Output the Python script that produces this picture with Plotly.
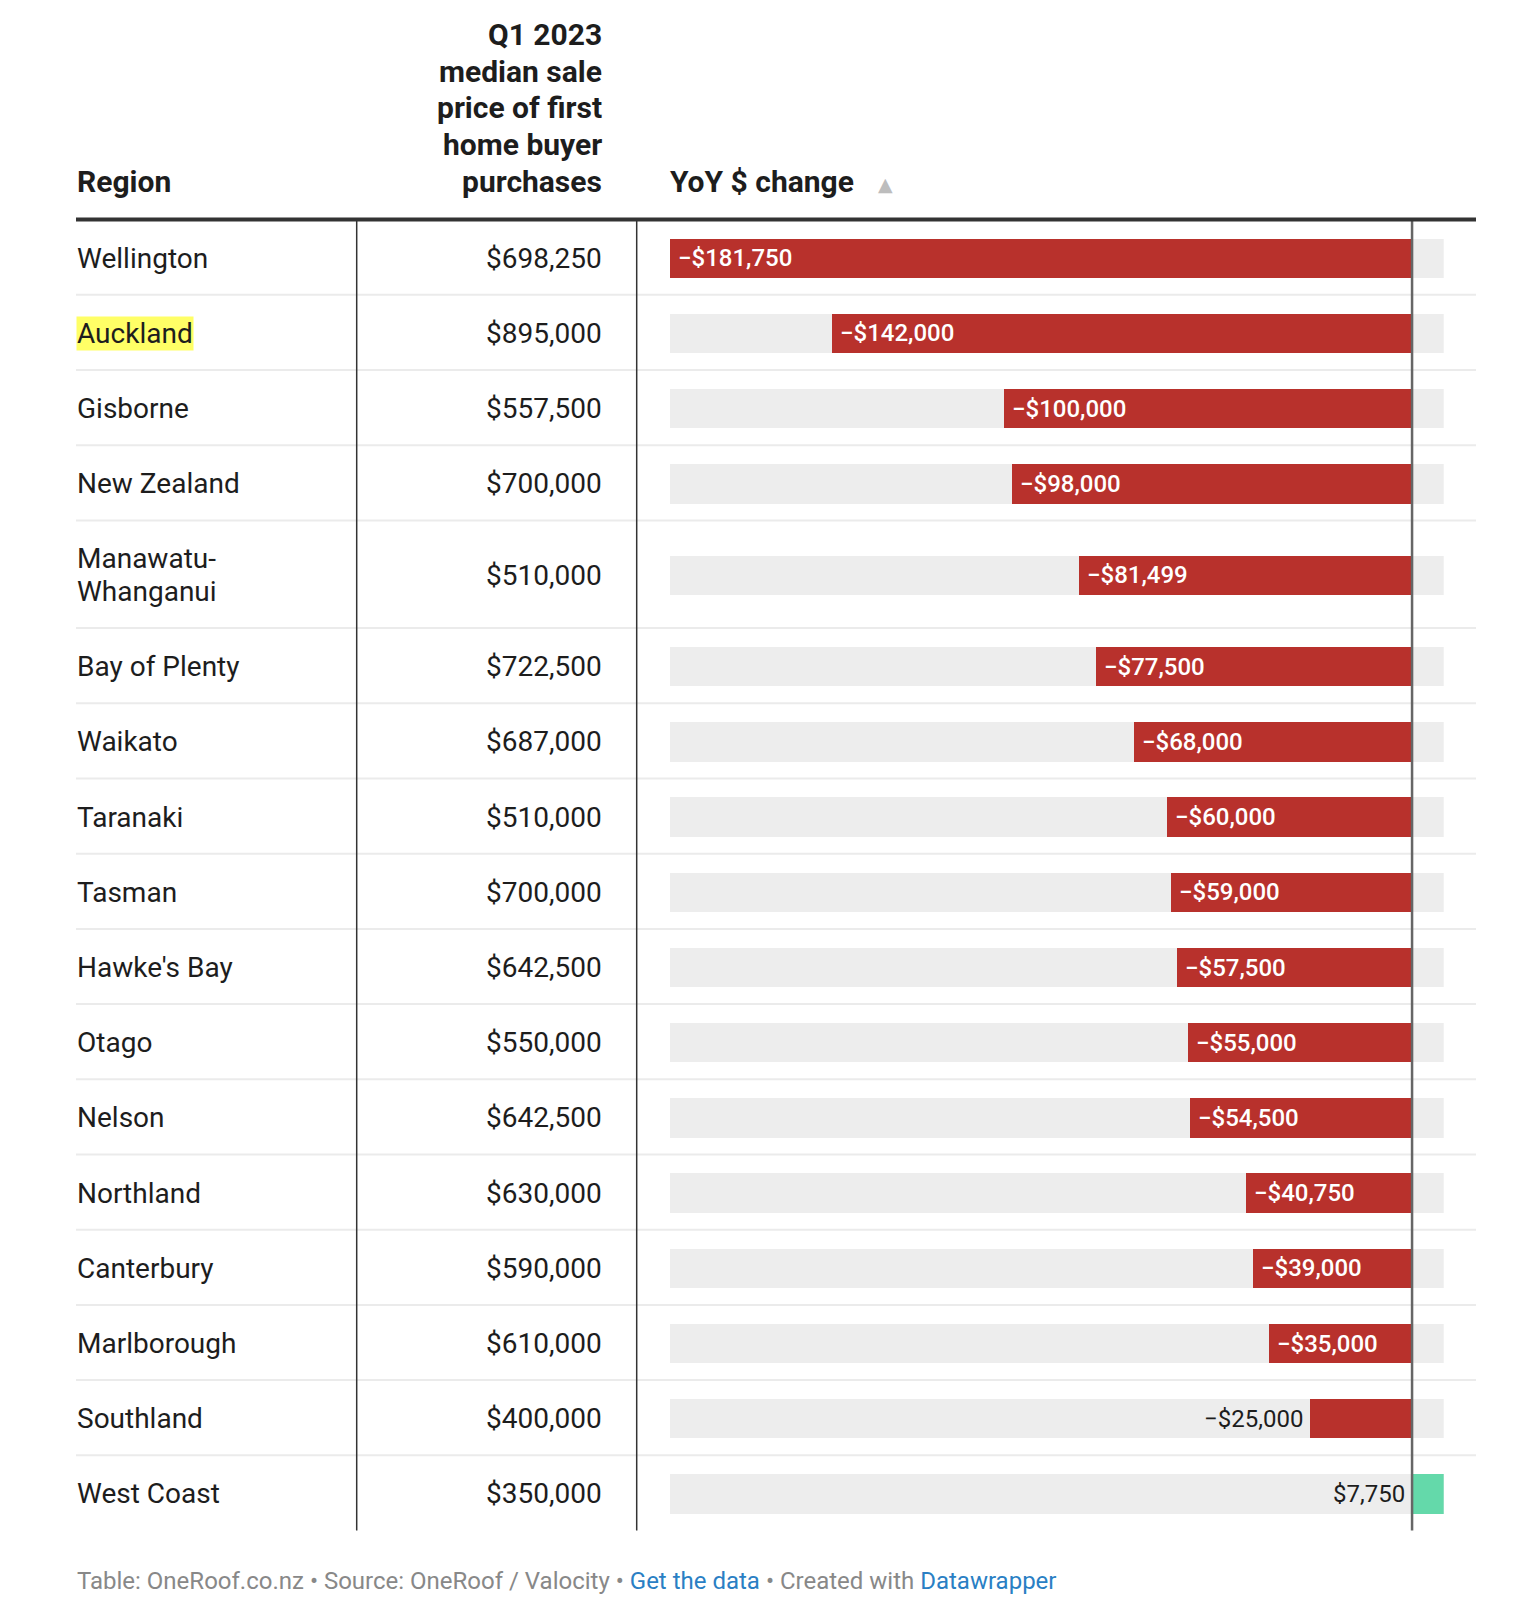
import plotly.graph_objects as go

regions = ["Wellington", "Auckland", "Gisborne", "New Zealand", "Manawatu-\nWhanganui",
           "Bay of Plenty", "Waikato", "Taranaki", "Tasman", "Hawke's Bay", "Otago",
           "Nelson", "Northland", "Canterbury", "Marlborough", "Southland", "West Coast"]
median_price = [698250, 895000, 557500, 700000, 510000, 722500, 687000, 510000, 700000,
                642500, 550000, 642500, 630000, 590000, 610000, 400000, 350000]
yoy_change = [-181750, -142000, -100000, -98000, -81499, -77500, -68000, -60000, -59000,
              -57500, -55000, -54500, -40750, -39000, -35000, -25000, 7750]
highlight = ["Auckland"]

price_header = ["Q1 2023", "median sale", "price of first", "home buyer", "purchases"]
footer_links = "#2a7fc4"

W, H = 1520, 1606
RED = "#b8312c"
GREEN = "#64d9aa"
BG = "#ededed"
FONT = "Roboto"

x_min = min(yoy_change)
x_max = max(yoy_change)


def money(v):
    s = "${:,}".format(abs(v))
    return "\u2212" + s if v < 0 else s


# row layout (pixels, y axis runs top->bottom)
rule_y = 219.6
row_tops, row_centers, row_heights = [], [], []
top = rule_y
for r in regions:
    n = r.count("\n") + 1
    h = 75.2 + 32.5 * (n - 1)
    row_tops.append(top)
    row_heights.append(h)
    row_centers.append(top + h / 2 + 1)
    top += h
table_bottom = top

fig = go.Figure()

# grey background bars across the full range
fig.add_trace(go.Bar(
    y=row_centers, x=[x_max - x_min] * len(regions), base=[x_min] * len(regions),
    orientation="h", width=39.4, marker=dict(color=BG, line=dict(width=0)),
    hoverinfo="skip", showlegend=False))

# value bars
fig.add_trace(go.Bar(
    y=row_centers, x=yoy_change, orientation="h", width=39.4,
    marker=dict(color=[RED if v < 0 else GREEN for v in yoy_change], line=dict(width=0)),
    hoverinfo="skip", showlegend=False))

ann = []
shapes = []

# header
ann.append(dict(text="Region", x=76 / W, y=181.5, xref="paper", yref="y",
                xanchor="left", yanchor="middle", showarrow=False, borderpad=0,
                font=dict(family=FONT, size=30, color="#1d1d1d", weight=700)))
for i, line in enumerate(price_header):
    base = 192 - 36.8 * (len(price_header) - 1 - i)
    ann.append(dict(text=line, x=603 / W, y=base - 10.6, xref="paper", yref="y",
                    xanchor="right", yanchor="middle", showarrow=False, borderpad=0,
                    font=dict(family=FONT, size=30, color="#1d1d1d", weight=700)))
ann.append(dict(text="YoY $ change", x=669 / W, y=181.5, xref="paper", yref="y",
                xanchor="left", yanchor="middle", showarrow=False, borderpad=0,
                font=dict(family=FONT, size=30, color="#1d1d1d", weight=700)))
ann.append(dict(text="\u25b2", x=885 / W, y=184, xref="paper", yref="y",
                xanchor="center", yanchor="middle", showarrow=False, borderpad=0,
                font=dict(family="DejaVu Sans", size=19, color="#bdbdbd")))

# rows
for i, r in enumerate(regions):
    lines = r.split("\n")
    for j, line in enumerate(lines):
        yy = row_centers[i] + (j - (len(lines) - 1) / 2) * 32.6
        ann.append(dict(text=line, x=76 / W, y=yy, xref="paper", yref="y",
                        xanchor="left", yanchor="middle", showarrow=False, borderpad=0,
                        bgcolor="#ffff66" if r in highlight else "rgba(0,0,0,0)",
                        font=dict(family=FONT, size=28, color="#1d1d1d")))
    ann.append(dict(text=money(median_price[i]), x=603 / W, y=row_centers[i],
                    xref="paper", yref="y", xanchor="right", yanchor="middle",
                    showarrow=False, borderpad=0,
                    font=dict(family=FONT, size=28, color="#1d1d1d")))

    v = yoy_change[i]
    label = money(v)
    bar_px = abs(v) / (x_max - x_min) * (1443.7 - 670)
    label_px = 24 * 0.56 * len(label)
    if v < 0 and bar_px > label_px + 16:
        ann.append(dict(text=label, x=v, y=row_centers[i], xref="x", yref="y",
                        xanchor="left", yanchor="middle", xshift=7, showarrow=False,
                        borderpad=0,
                        font=dict(family=FONT, size=24, color="white", weight=500)))
    else:
        ann.append(dict(text=label, x=min(v, 0), y=row_centers[i], xref="x", yref="y",
                        xanchor="right", yanchor="middle", xshift=-6, showarrow=False,
                        borderpad=0, font=dict(family=FONT, size=24, color="#1d1d1d")))

    # row separator
    if i > 0:
        shapes.append(dict(type="line", xref="paper", yref="y", x0=76 / W, x1=1476 / W,
                           y0=row_tops[i], y1=row_tops[i],
                           line=dict(color="#ebebeb", width=2), layer="below"))

# column lines
for cx in [356.7, 636.7]:
    shapes.append(dict(type="line", xref="paper", yref="y", x0=cx / W, x1=cx / W,
                       y0=rule_y, y1=table_bottom, line=dict(color="#333333", width=1.5)))
# zero line
shapes.append(dict(type="line", xref="x", yref="y", x0=0, x1=0,
                   y0=rule_y, y1=table_bottom, line=dict(color="#666666", width=2.5)))
# header rule
shapes.append(dict(type="line", xref="paper", yref="y", x0=76 / W, x1=1476 / W,
                   y0=rule_y, y1=rule_y, line=dict(color="#333333", width=4)))

# footer
footer = ("Table: OneRoof.co.nz \u2022 Source: OneRoof / Valocity \u2022 "
          "<span style='color:%s'>Get the data</span> \u2022 Created with "
          "<span style='color:%s'>Datawrapper</span>" % (footer_links, footer_links))
ann.append(dict(text=footer, x=76 / W, y=1580.5, xref="paper", yref="y",
                xanchor="left", yanchor="middle", showarrow=False, borderpad=0,
                font=dict(family=FONT, size=24, color="#888888")))

fig.update_layout(
    width=W, height=H,
    margin=dict(l=0, r=0, t=0, b=0),
    paper_bgcolor="white", plot_bgcolor="white",
    barmode="overlay", bargap=0,
    annotations=ann, shapes=shapes,
    xaxis=dict(domain=[670 / W, 1443.7 / W], range=[x_min, x_max], visible=False,
               fixedrange=True),
    yaxis=dict(domain=[0, 1], range=[H, 0], visible=False, fixedrange=True),
)

# page body has a default 8px margin; drop it so the table sits where it should
fig.write_html("out.html", config={"displayModeBar": False},
               post_script="document.body.style.margin='0';")
